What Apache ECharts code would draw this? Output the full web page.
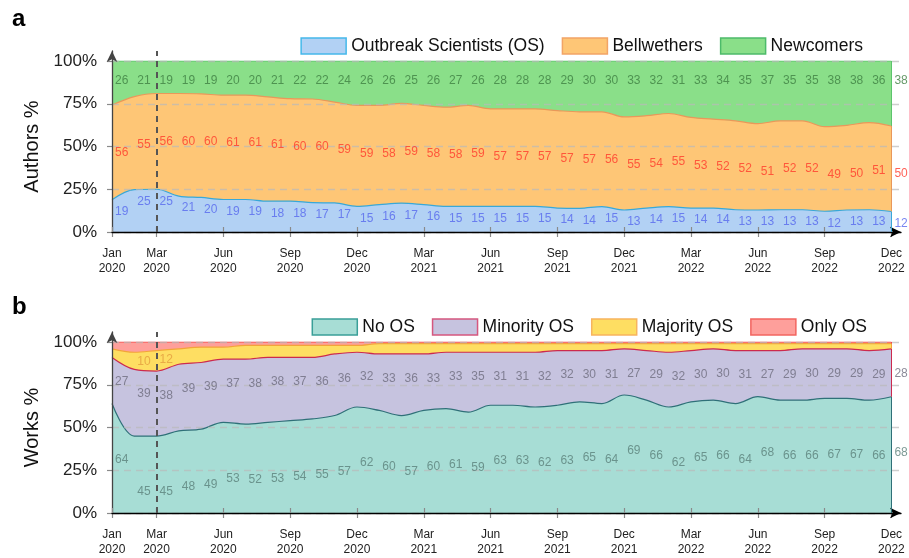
<!DOCTYPE html>
<html><head><meta charset="utf-8">
<script src="https://cdn.jsdelivr.net/npm/echarts@6/dist/echarts.min.js"></script>
<style>html,body{margin:0;padding:0;background:#fff}#c{width:909px;height:558px}</style>
</head><body><div id="c"></div>
<script>
// ---------- DATA ----------
const months = ['2020-01','2020-02','2020-03','2020-04','2020-05','2020-06','2020-07','2020-08','2020-09','2020-10','2020-11','2020-12',
  '2021-01','2021-02','2021-03','2021-04','2021-05','2021-06','2021-07','2021-08','2021-09','2021-10','2021-11','2021-12',
  '2022-01','2022-02','2022-03','2022-04','2022-05','2022-06','2022-07','2022-08','2022-09','2022-10','2022-11','2022-12'];
const tickIndex = [0,2,5,8,11,14,17,20,23,26,29,32,35];
const tickLabels = ['Jan\n2020','Mar\n2020','Jun\n2020','Sep\n2020','Dec\n2020','Mar\n2021','Jun\n2021','Sep\n2021','Dec\n2021','Mar\n2022','Jun\n2022','Sep\n2022','Dec\n2022'];
const outbreakIndex = 2; // Mar 2020

// Panel a: Authors %
const osAuthors   = [19,25,25,21,20,19,19,18,18,17,17,15,16,17,16,15,15,15,15,15,14,14,15,13,14,15,14,14,13,13,13,13,12,13,13,12];
const bellwethers = [56,55,56,60,60,61,61,61,60,60,59,59,58,59,58,58,59,57,57,57,57,57,56,55,54,55,53,52,52,51,52,52,49,50,51,50];
const newcomers   = [26,21,19,19,19,20,20,21,22,22,24,26,26,25,26,27,26,28,28,28,29,30,30,33,32,31,33,34,35,37,35,35,38,38,36,38];

// Panel b: Works %
const noOS       = [64,45,45,48,49,53,52,53,54,55,57,62,60,57,60,61,59,63,63,62,63,65,64,69,66,62,65,66,64,68,66,66,67,67,66,68];
const minorityOS = [27,39,38,39,39,37,38,38,37,36,36,32,33,36,33,33,35,31,31,32,32,30,31,27,29,32,30,30,31,27,29,30,29,29,29,28];
const majorityOS = [5,10,12,9,9,7,8,7,7,7,5,4,6,6,6,5,5,5,5,5,4,4,4,3,4,5,4,3,4,4,4,3,3,3,4,3];
const onlyOS     = [4,6,5,4,3,3,2,2,2,2,2,2,1,1,1,1,1,1,1,1,1,1,1,1,1,1,1,1,1,1,1,1,1,1,1,1];

// ---------- CHART ----------
const FONT = "'Liberation Sans', Arial, Helvetica, sans-serif";
const X_MAX = 35.43;

const panels = [
  { yName: 'Authors %', series: [
    { name: 'Outbreak Scientists (OS)', values: osAuthors, fill: '#b2d1f4', stroke: '#38a8d8', border: '#45b8ea', labelColor: '#5668ee', labelOffset: 7 },
    { name: 'Bellwethers', values: bellwethers, fill: '#fec676', stroke: '#e9985a', border: '#f2a466', labelColor: '#ff3a2c', labelOffset: 28 },
    { name: 'Newcomers', values: newcomers, fill: '#8adf89', stroke: '#5cc46c', border: '#4dbb6a', labelColor: '#3e7f42', labelOffset: 11.7 }
  ]},
  { yName: 'Works %', series: [
    { name: 'No OS', values: noOS, fill: '#a7ddd5', stroke: '#2f7078', border: '#3a9f98', labelColor: '#5b817b', labelOffset: 32.7 },
    { name: 'Minority OS', values: minorityOS, fill: '#c6c3df', stroke: '#cc2a4e', border: '#d5577f', labelColor: '#6e6d7e', labelOffset: 14.3 },
    { name: 'Majority OS', values: majorityOS, fill: '#fede62', stroke: '#f3a43a', border: '#f7b45e', labelColor: '#e39d3e', labelOffset: 5.5, labelMin: 10 },
    { name: 'Only OS', values: onlyOS, fill: '#fe9f9b', stroke: '#f04848', border: '#f26560', labelColor: '#f04848', labelOffset: null }
  ]}
];

const gridTops = [61, 342];
const grids = [], xAxes = [], yAxes = [], series = [], legends = [];

panels.forEach((p, pi) => {
  const top = gridTops[pi];
  const gm = grids.length;
  grids.push({ left: 112, top: top, width: 789, height: 171 });
  grids.push({ left: 112, top: top - 10, width: 789, height: 181 });
  const xm = xAxes.length, ym = yAxes.length;
  xAxes.push({ type: 'value', gridIndex: gm, min: 0, max: X_MAX,
    axisLine: { show: false }, splitLine: { show: false },
    axisTick: { show: true, customValues: tickIndex, length: 5, lineStyle: { color: '#8a8a8a', width: 1.2 } },
    axisLabel: { show: true, customValues: tickIndex, formatter: v => tickLabels[tickIndex.indexOf(Math.round(v))] || '',
      fontSize: 12, lineHeight: 15, color: '#222', margin: 14, fontFamily: FONT } });
  xAxes.push({ type: 'value', gridIndex: gm + 1, min: 0, max: X_MAX, z: 4,
    axisLine: { show: true, symbol: ['none', 'arrow'], symbolSize: [8, 11], lineStyle: { color: '#000', width: 1.3 } },
    splitLine: { show: false }, axisLabel: { show: false },
    axisTick: { show: true, inside: true, customValues: tickIndex, length: 5, lineStyle: { color: '#8a8a8a', width: 1.2 } } });
  yAxes.push({ type: 'value', gridIndex: gm, min: 0, max: 100, interval: 25, z: 3,
    name: p.yName, nameLocation: 'middle', nameGap: 70,
    nameTextStyle: { fontSize: 20, color: '#111', fontFamily: FONT },
    axisLine: { show: false },
    axisTick: { show: true, length: 5, lineStyle: { color: '#8a8a8a', width: 1.2 } },
    axisLabel: { formatter: '{value}%', fontSize: 17, color: '#222', margin: 15, fontFamily: FONT },
    splitLine: { show: true, lineStyle: { color: 'rgba(185,185,185,0.7)', type: [7, 5], width: 1.3 } } });
  yAxes.push({ type: 'value', gridIndex: gm + 1, min: 0, max: 1, z: 4,
    axisLine: { show: true, symbol: ['none', 'arrow'], symbolSize: [8, 11], lineStyle: { color: '#444', width: 1.3 } },
    axisTick: { show: false }, axisLabel: { show: false }, splitLine: { show: false } });
  const xd = xm + 1, yd = ym + 1;

  // normalise shares of each month so the stack fills 100 %, then accumulate
  const vals = p.series.map(s => s.values);
  const n = vals[0].length;
  const norm = vals.map(() => []);
  for (let i = 0; i < n; i++) {
    let s = 0; vals.forEach(v => s += v[i]);
    vals.forEach((v, k) => norm[k].push(v[i] / s * 100));
  }
  const cum = [];
  norm.forEach((arr, k) => cum.push(arr.map((v, i) => v + (k ? cum[k - 1][i] : 0))));

  // areas: each fills from 0 to its cumulative top; top-most drawn first
  for (let k = p.series.length - 1; k >= 0; k--) {
    const s = p.series[k];
    series.push({ type: 'line', name: s.name, xAxisIndex: xm, yAxisIndex: ym,
      smooth: 0.35, symbol: 'none', silent: true, z: 2,
      data: cum[k].map((v, i) => [i, v]),
      lineStyle: { color: s.stroke, width: 1.2 },
      itemStyle: { color: s.fill },
      areaStyle: { color: s.fill, opacity: 1, origin: 'start' } });
  }
  p.series.forEach((s, k) => {
    if (s.labelOffset == null) return;
    const d = [];
    s.values.forEach((v, i) => { if (v >= (s.labelMin || 0)) d.push([i, cum[k][i] - s.labelOffset, v]); });
    series.push({ type: 'scatter', xAxisIndex: xm, yAxisIndex: ym, symbolSize: 1, silent: true, z: 6,
      itemStyle: { color: 'rgba(0,0,0,0)' }, data: d,
      label: { show: true, position: 'right', distance: 2.5, formatter: q => String(q.value[2]),
        color: s.labelColor, fontSize: 12, fontFamily: FONT } });
  });
  const last = n - 1;
  series.push({ type: 'line', xAxisIndex: xm, yAxisIndex: ym, data: [], z: 3, silent: true,
    markLine: { silent: true, animation: false, symbol: ['none', 'none'], label: { show: false },
      data: p.series.map((s, k) => [
        { coord: [last, k ? cum[k - 1][last] : 0], lineStyle: { color: s.stroke, width: 1, type: 'solid' } },
        { coord: [last, cum[k][last]] }]) } });
  series.push({ type: 'line', xAxisIndex: xd, yAxisIndex: yd, data: [], z: 5, silent: true,
    markLine: { silent: true, animation: false, symbol: ['none', 'none'], label: { show: false },
      lineStyle: { color: '#555', type: [6, 5], width: 2 }, data: [{ xAxis: outbreakIndex }] } });

  legends.push({ top: top - 29, right: pi ? 37 : 41, itemWidth: 45, itemHeight: 16, itemGap: 17,
    selectedMode: false, textStyle: { fontSize: 17.5, color: '#111', fontFamily: FONT },
    data: p.series.map(s => ({ name: s.name, icon: 'rect',
      itemStyle: { color: s.fill, borderColor: s.border, borderWidth: 1.5 } })) });
});

const chart = echarts.init(document.getElementById('c'));
chart.setOption({
  animation: false,
  backgroundColor: '#fff',
  textStyle: { fontFamily: FONT },
  title: [
    { text: 'a', left: 7, top: 2, textStyle: { fontSize: 24, fontWeight: 'bold', color: '#000', fontFamily: FONT } },
    { text: 'b', left: 7, top: 290, textStyle: { fontSize: 24, fontWeight: 'bold', color: '#000', fontFamily: FONT } }
  ],
  legend: legends,
  grid: grids,
  xAxis: xAxes,
  yAxis: yAxes,
  series: series
});
</script>
</body></html>
